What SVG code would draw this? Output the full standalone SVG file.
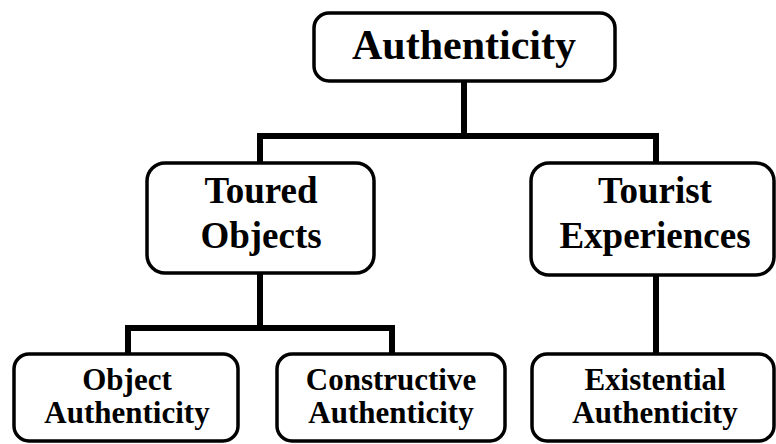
<svg xmlns="http://www.w3.org/2000/svg" width="776" height="444" viewBox="0 0 776 444">
  <style>
    .box { fill: #ffffff; stroke: #000000; stroke-width: 3.5; }
    .link { fill: none; stroke: #000000; stroke-width: 6; stroke-linecap: butt; stroke-linejoin: miter; }
    text { font-family: "Liberation Serif", "Times New Roman", serif; font-weight: bold; fill: #000000; text-anchor: middle; }
    .t1 { font-size: 42px; }
    .t2 { font-size: 37px; }
    .t3 { font-size: 31px; }
  </style>
  <rect width="776" height="444" fill="#ffffff"/>

  <!-- tree connectors -->
  <g id="connectors">
    <path class="link" d="M464 81 V136"/>
    <path class="link" d="M260 163 V136 H656 V163"/>
    <path class="link" d="M260 273 V328"/>
    <path class="link" d="M128 354 V328 H392 V354"/>
    <path class="link" d="M656 275 V354"/>
  </g>

  <g id="authenticity">
    <rect class="box" x="314" y="13" width="301" height="68" rx="15"/>
    <text class="t1" x="464" y="59">Authenticity</text>
  </g>

  <g id="toured-objects">
    <rect class="box" x="147" y="163" width="227" height="110" rx="18"/>
    <text class="t2" x="261" y="203">Toured</text>
    <text class="t2" x="261" y="248">Objects</text>
  </g>

  <g id="tourist-experiences">
    <rect class="box" x="531" y="163" width="243" height="112" rx="18"/>
    <text class="t2" x="655" y="203">Tourist</text>
    <text class="t2" x="655" y="248">Experiences</text>
  </g>

  <g id="object-authenticity">
    <rect class="box" x="14" y="354" width="224" height="87" rx="15"/>
    <text class="t3" x="127" y="390">Object</text>
    <text class="t3" x="127" y="423">Authenticity</text>
  </g>

  <g id="constructive-authenticity">
    <rect class="box" x="277" y="354" width="228" height="87" rx="15"/>
    <text class="t3" x="391" y="390">Constructive</text>
    <text class="t3" x="391" y="423">Authenticity</text>
  </g>

  <g id="existential-authenticity">
    <rect class="box" x="532" y="354" width="242" height="87" rx="15"/>
    <text class="t3" x="655" y="390">Existential</text>
    <text class="t3" x="655" y="423">Authenticity</text>
  </g>
</svg>
